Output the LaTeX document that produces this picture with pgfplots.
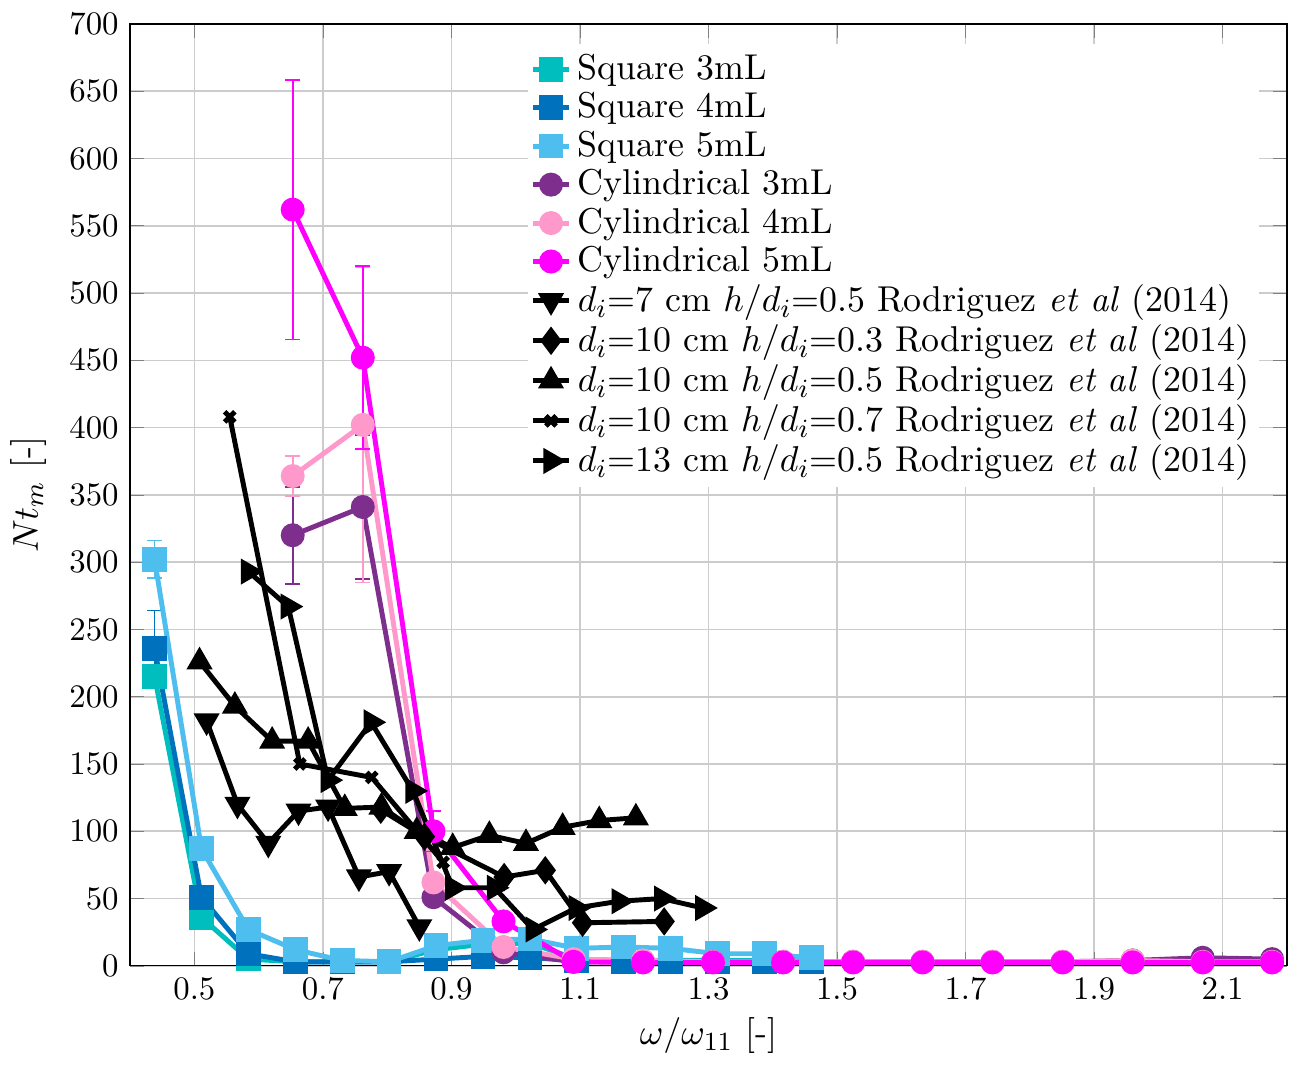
\documentclass[border=0pt]{standalone}
\usepackage{pgfplots}
\pgfplotsset{compat=1.18}
\definecolor{sqA}{RGB}{0,190,190}
\definecolor{sqB}{RGB}{0,114,189}
\definecolor{sqC}{RGB}{77,190,238}
\definecolor{cyA}{RGB}{126,47,142}
\definecolor{cyB}{RGB}{255,153,204}
\definecolor{cyC}{RGB}{255,0,255}
\begin{document}
\begin{tikzpicture}
\begin{axis}[
  name=ax,
  scale only axis,
  width=352.7pt, height=287.2pt,
  xmin=0.4, xmax=2.2, ymin=0, ymax=700,
  xtick={0.5,0.7,0.9,1.1,1.3,1.5,1.7,1.9,2.1},
  xticklabels={0.5,0.7,0.9,1.1,1.3,1.5,1.7,1.9,2.1},
  ytick={0,50,...,700},
  grid=major,
  major grid style={color=black!20, line width=0.5pt},
  tick align=inside,
  xtick pos=both, ytick pos=both,
  xlabel={$\omega/\omega_{11}$ [-]},
  ylabel={$Nt_m$ [-]},
  label style={font=\fontsize{10.95}{13}\selectfont},
  xlabel style={yshift=1.5pt},
  legend style={at={(0.343,0.979)}, anchor=north west, draw=none, fill=white, inner sep=1pt, row sep=-1.5pt, cells={anchor=west}, font=\fontsize{10.95}{13}\selectfont},
  legend image code/.code={\draw[mark repeat=2,mark phase=2] plot coordinates {(0cm,0cm) (0.19cm,0cm) (0.38cm,0cm)};},
  every axis plot/.append style={line width=1.5pt},
  error bars/error bar style={line width=0.5pt},
  error bars/error mark options={rotate=90, mark size=2.3pt, line width=0.5pt},
]
% Square 3mL
\addplot[color=sqA, mark=square*, mark size=3pt, mark options={solid}] coordinates {
(0.438,215) (0.511,36) (0.584,5) (0.657,3) (0.730,3) (0.803,3) (0.876,12) (0.949,16) (1.022,17) (1.095,5) (1.168,4) (1.241,4) (1.314,4) (1.387,4) (1.460,3)};
\addlegendentry{Square 3mL}
% Square 4mL
\addplot[color=sqB, mark=square*, mark size=3pt, error bars/.cd, y dir=both, y explicit] coordinates {
(0.438,236) +- (0,28) (0.511,51) +- (0,0) (0.584,9) +- (0,0) (0.657,3) +- (0,0) (0.730,3) +- (0,0) (0.803,3) +- (0,0) (0.876,5) +- (0,0) (0.949,7) +- (0,0) (1.022,6) +- (0,0) (1.095,4) +- (0,0) (1.168,3) +- (0,0) (1.241,3) +- (0,0) (1.314,3) +- (0,0) (1.387,3) +- (0,0) (1.460,3) +- (0,0)};
\addlegendentry{Square 4mL}
% Square 5mL
\addplot[color=sqC, mark=square*, mark size=3pt, error bars/.cd, y dir=both, y explicit] coordinates {
(0.438,302) +- (0,14) (0.511,87) +- (0,0) (0.584,27) +- (0,0) (0.657,12) +- (0,0) (0.730,4) +- (0,0) (0.803,3) +- (0,0) (0.876,15) +- (0,0) (0.949,19) +- (0,0) (1.022,20) +- (0,0) (1.095,13) +- (0,0) (1.168,14) +- (0,0) (1.241,13) +- (0,0) (1.314,9) +- (0,0) (1.387,9) +- (0,0) (1.460,6) +- (0,0)};
\addlegendentry{Square 5mL}
% Cylindrical 3mL
\addplot[color=cyA, mark=*, mark size=2.9pt, error bars/.cd, y dir=both, y explicit] coordinates {
(0.653,320) +- (0,36) (0.762,341) +- (0,53.5) (0.872,51) +- (0,0) (0.981,10) +- (0,0) (1.090,3) +- (0,0) (1.198,3) +- (0,0) (1.307,3) +- (0,0) (1.416,3) +- (0,0) (1.525,3) +- (0,0) (1.633,3) +- (0,0) (1.742,3) +- (0,0) (1.851,3) +- (0,0) (1.960,4) +- (0,0) (2.069,6) +- (0,0) (2.177,5) +- (0,0)};
\addlegendentry{Cylindrical 3mL}
% Cylindrical 4mL
\addplot[color=cyB, mark=*, mark size=2.9pt, error bars/.cd, y dir=both, y explicit] coordinates {
(0.653,364) +- (0,15) (0.762,402) +- (0,117) (0.872,62) +- (0,0) (0.981,14) +- (0,0) (1.090,5) +- (0,0) (1.198,4) +- (0,0) (1.307,3) +- (0,0) (1.416,3) +- (0,0) (1.525,3) +- (0,0) (1.633,3) +- (0,0) (1.742,3) +- (0,0) (1.851,3) +- (0,0) (1.960,4) +- (0,0) (2.069,3) +- (0,0) (2.177,3) +- (0,0)};
\addlegendentry{Cylindrical 4mL}
% Cylindrical 5mL
\addplot[color=cyC, mark=*, mark size=2.9pt, error bars/.cd, y dir=both, y explicit] coordinates {
(0.653,562) +- (0,96.5) (0.762,452) +- (0,68) (0.872,100) +- (0,15) (0.981,33) +- (0,0) (1.090,3) +- (0,0) (1.198,2.5) +- (0,0) (1.307,2.5) +- (0,0) (1.416,2.5) +- (0,0) (1.525,2.5) +- (0,0) (1.633,2.5) +- (0,0) (1.742,2.5) +- (0,0) (1.851,2.5) +- (0,0) (1.960,2.5) +- (0,0) (2.069,2.5) +- (0,0) (2.177,2.5) +- (0,0)};
\addlegendentry{Cylindrical 5mL}
% Rodriguez d=7 h/d=0.5
\addplot[color=black, mark=triangle*, mark size=3.1pt, mark options={rotate=180}] coordinates {
(0.519,182) (0.567,120) (0.615,91) (0.662,115) (0.708,118) (0.756,66) (0.803,70) (0.850,29)};
\addlegendentry{$d_i$=7 cm $h/d_i$=0.5 Rodriguez \textit{et al} (2014)}
% d=10 h/d=0.3
\addplot[color=black, mark=diamond*, mark size=3.1pt] coordinates {
(0.790,116) (0.858,96) (0.982,66) (1.046,71) (1.104,32) (1.231,33)};
\addlegendentry{$d_i$=10 cm $h/d_i$=0.3 Rodriguez \textit{et al} (2014)}
% d=10 h/d=0.5
\addplot[color=black, mark=triangle*, mark size=3.1pt] coordinates {
(0.508,226) (0.563,193) (0.621,167) (0.677,167) (0.734,117) (0.791,118) (0.846,100) (0.902,88) (0.959,97) (1.016,91) (1.073,103) (1.130,108) (1.187,110)};
\addlegendentry{$d_i$=10 cm $h/d_i$=0.5 Rodriguez \textit{et al} (2014)}
% d=10 h/d=0.7
\addplot[color=black, mark=x, mark size=2.2pt, mark options={line width=1.5pt}] coordinates {
(0.555,408) (0.664,150) (0.776,140) (0.887,77)};
\addlegendentry{$d_i$=10 cm $h/d_i$=0.7 Rodriguez \textit{et al} (2014)}
% d=13 h/d=0.5
\addplot[color=black, mark=triangle*, mark size=3.1pt, mark options={rotate=-90}] coordinates {
(0.584,293) (0.646,267) (0.708,138) (0.775,181) (0.840,130) (0.902,58) (0.967,58) (1.027,27) (1.094,43) (1.161,48) (1.227,50) (1.291,43)};
\addlegendentry{$d_i$=13 cm $h/d_i$=0.5 Rodriguez \textit{et al} (2014)}
\end{axis}
\path (ax.south east) ++(3.4pt,-30.8pt);
\path (ax.north east) ++(3.4pt,7.3pt);
\path (ax.south west) ++(-39.6pt,0pt);
\end{tikzpicture}
\end{document}
